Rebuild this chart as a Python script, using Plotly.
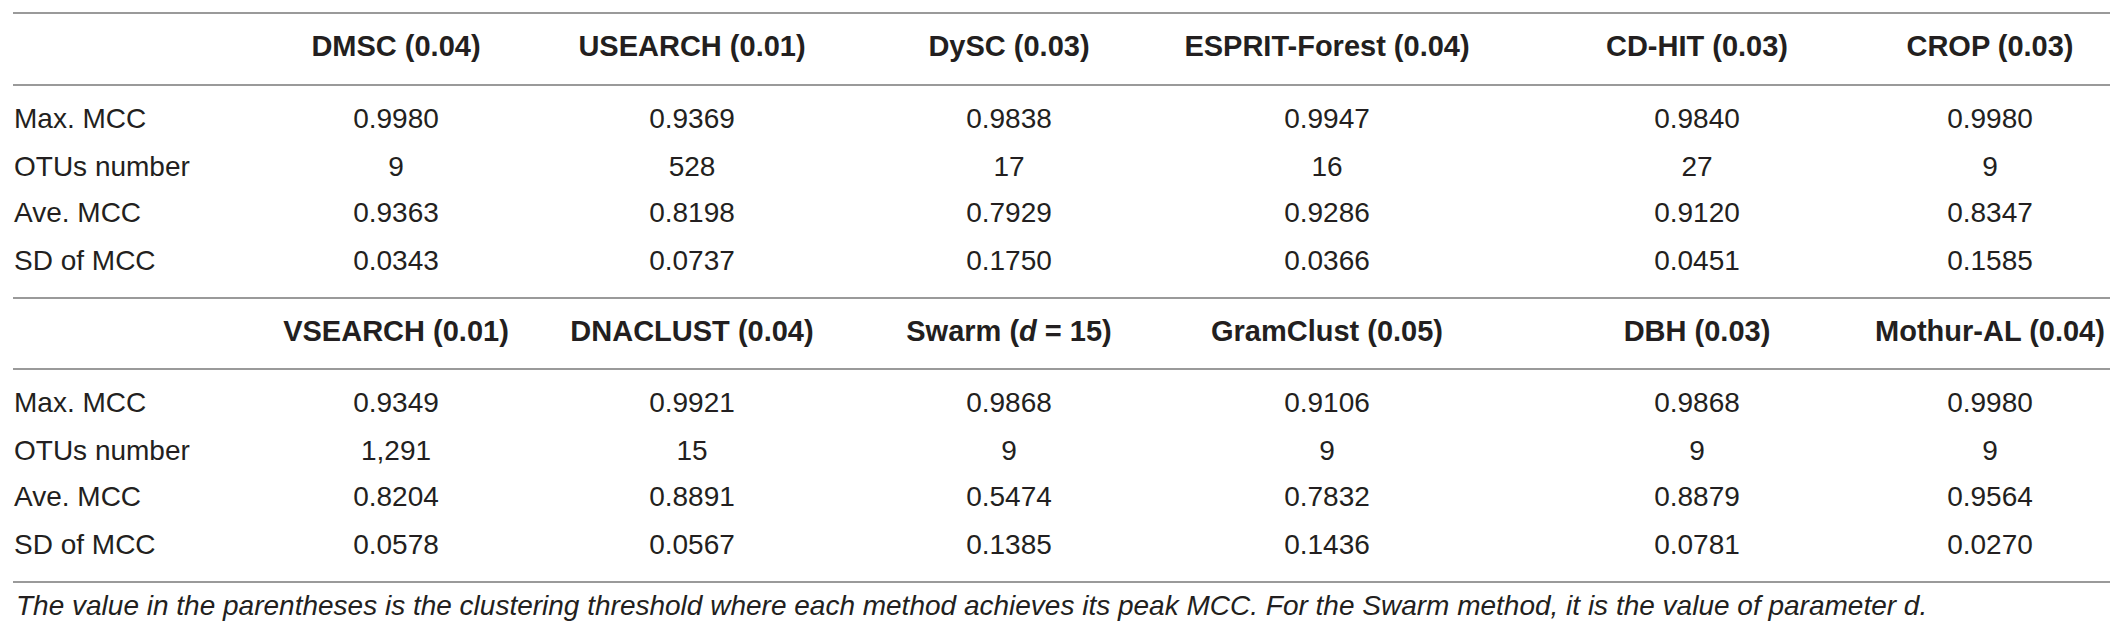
import plotly.graph_objects as go

# table data
row_labels = ["Max. MCC", "OTUs number", "Ave. MCC", "SD of MCC"]

methods_top = ["DMSC (0.04)", "USEARCH (0.01)", "DySC (0.03)",
               "ESPRIT-Forest (0.04)", "CD-HIT (0.03)", "CROP (0.03)"]
max_mcc_top = ["0.9980", "0.9369", "0.9838", "0.9947", "0.9840", "0.9980"]
otus_top = ["9", "528", "17", "16", "27", "9"]
ave_mcc_top = ["0.9363", "0.8198", "0.7929", "0.9286", "0.9120", "0.8347"]
sd_mcc_top = ["0.0343", "0.0737", "0.1750", "0.0366", "0.0451", "0.1585"]

methods_bottom = ["VSEARCH (0.01)", "DNACLUST (0.04)", "Swarm (<i>d</i> = 15)",
                  "GramClust (0.05)", "DBH (0.03)", "Mothur-AL (0.04)"]
max_mcc_bottom = ["0.9349", "0.9921", "0.9868", "0.9106", "0.9868", "0.9980"]
otus_bottom = ["1,291", "15", "9", "9", "9", "9"]
ave_mcc_bottom = ["0.8204", "0.8891", "0.5474", "0.7832", "0.8879", "0.9564"]
sd_mcc_bottom = ["0.0578", "0.0567", "0.1385", "0.1436", "0.0781", "0.0270"]

footnote = ("The value in the parentheses is the clustering threshold where each method "
            "achieves its peak MCC. For the Swarm method, it is the value of parameter d.")

W, H = 2118, 623
col_x = [388, 684, 1001, 1319, 1689, 1982]
label_x = 6
TXT = "#231f20"
LINE = "#9a9a9a"
body_font = dict(family="Liberation Sans, Arial, sans-serif", size=28, color=TXT)
head_font = dict(family="Liberation Sans, Arial, sans-serif", size=29,
                 color=TXT, weight="bold")

fig = go.Figure()


def add_block(methods, rows, head_y, row_y):
    fig.add_trace(go.Scatter(x=col_x, y=[head_y] * len(methods), text=methods,
                             mode="text", textposition="middle center",
                             textfont=head_font, hoverinfo="skip"))
    fig.add_trace(go.Scatter(x=[label_x] * len(row_labels), y=row_y, text=row_labels,
                             mode="text", textposition="middle right",
                             textfont=body_font, hoverinfo="skip"))
    for vals, y in zip(rows, row_y):
        fig.add_trace(go.Scatter(x=col_x, y=[y] * len(vals), text=vals,
                                 mode="text", textposition="middle center",
                                 textfont=body_font, hoverinfo="skip"))


add_block(methods_top, [max_mcc_top, otus_top, ave_mcc_top, sd_mcc_top],
          41, [113, 161, 207, 255])
add_block(methods_bottom, [max_mcc_bottom, otus_bottom, ave_mcc_bottom, sd_mcc_bottom],
          326, [397, 445, 491, 539])

# horizontal rules
for y in [5, 77, 290, 361, 574]:
    fig.add_shape(type="line", x0=5, x1=2112, y0=y, y1=y,
                  line=dict(color=LINE, width=2))

fig.add_annotation(x=label_x, y=597, xanchor="left", yanchor="middle",
                   text="<i>" + footnote + "</i>", showarrow=False,
                   font=dict(family="Liberation Sans, Arial, sans-serif", size=28, color=TXT))

fig.update_xaxes(range=[0, W], visible=False, fixedrange=True)
fig.update_yaxes(range=[H, 0], visible=False, fixedrange=True)
fig.update_layout(width=W, height=H, margin=dict(l=0, r=0, t=0, b=0),
                  showlegend=False, plot_bgcolor="white", paper_bgcolor="white")

fig.write_html("out.html")
